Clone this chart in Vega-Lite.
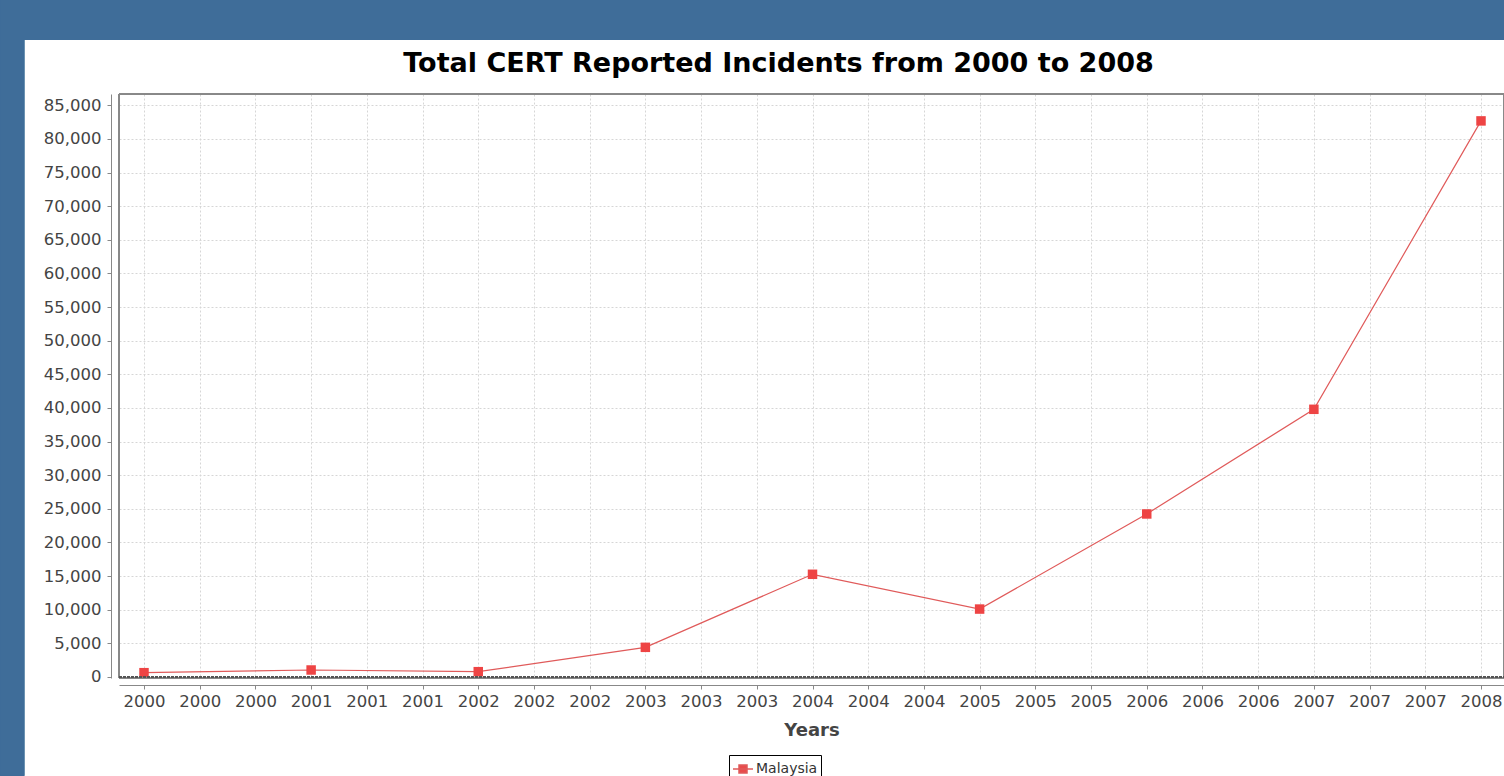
{
  "$schema": "https://vega.github.io/schema/vega-lite/v6.json",
  "autosize": {"type": "none"},
  "padding": {"left": 119, "top": 94, "right": 0, "bottom": 98},
  "width": 1385,
  "height": 584,
  "background": "#ffffff",
  "title": {
    "text": "Total CERT Reported Incidents from 2000 to 2008",
    "font": "DejaVu Sans",
    "fontSize": 27,
    "fontWeight": "bold",
    "color": "#000000",
    "anchor": "middle",
    "frame": "group",
    "dx": -33,
    "dy": 82,
    "zindex": 1
  },
  "data": {
    "values": [
      {"year": 2000, "incidents": 640, "series": "Malaysia"},
      {"year": 2001, "incidents": 1040, "series": "Malaysia"},
      {"year": 2002, "incidents": 790, "series": "Malaysia"},
      {"year": 2003, "incidents": 4410, "series": "Malaysia"},
      {"year": 2004, "incidents": 15270, "series": "Malaysia"},
      {"year": 2005, "incidents": 10100, "series": "Malaysia"},
      {"year": 2006, "incidents": 24240, "series": "Malaysia"},
      {"year": 2007, "incidents": 39800, "series": "Malaysia"},
      {"year": 2008, "incidents": 82680, "series": "Malaysia"}
    ]
  },
  "encoding": {
    "x": {
      "field": "year",
      "type": "quantitative",
      "scale": {"domain": [1999.8504, 2008.1376], "nice": false, "zero": false},
      "axis": {
        "values": [2000, 2000.3333333, 2000.6666667, 2001, 2001.3333333, 2001.6666667, 2002, 2002.3333333, 2002.6666667, 2003, 2003.3333333, 2003.6666667, 2004, 2004.3333333, 2004.6666667, 2005, 2005.3333333, 2005.6666667, 2006, 2006.3333333, 2006.6666667, 2007, 2007.3333333, 2007.6666667, 2008],
        "labelExpr": "floor(datum.value + 0.001)",
        "title": "Years",
        "offset": 7,
        "grid": true,
        "labelPadding": 4,
        "titlePadding": 12,
        "labelFlush": false,
        "labelOverlap": false
      }
    },
    "y": {
      "field": "incidents",
      "type": "quantitative",
      "scale": {"domain": [-150, 86680], "nice": false, "zero": false},
      "axis": {
        "values": [0, 5000, 10000, 15000, 20000, 25000, 30000, 35000, 40000, 45000, 50000, 55000, 60000, 65000, 70000, 75000, 80000, 85000],
        "labelExpr": "format(datum.value, ',')",
        "title": null,
        "offset": 8,
        "grid": true,
        "labelPadding": 6,
        "labelOverlap": false
      }
    }
  },
  "layer": [
    {
      "mark": {"type": "line", "strokeWidth": 1.2, "color": "#dc6a6a"},
      "encoding": {
        "color": {
          "field": "series",
          "type": "nominal",
          "scale": {"range": ["#e05a5a"]},
          "legend": {
            "title": null,
            "orient": "none",
            "legendX": 610,
            "legendY": 661,
            "strokeColor": "#000000",
            "padding": 3,
            "symbolType": "M-1,0H-0.4V-0.4H0.4V0.4H-0.4V0H0.4H1",
            "symbolSize": 400,
            "labelFontSize": 14,
            "labelFont": "DejaVu Sans",
            "labelColor": "#333333",
            "labelOffset": 2,
            "encode": {
              "symbols": {"update": {"fill": {"value": "#e84c4c"}, "stroke": {"value": "#e06666"}, "strokeWidth": {"value": 1.5}}}
            }
          }
        }
      }
    },
    {
      "mark": {"type": "point", "shape": "square", "filled": true, "size": 90, "opacity": 1, "color": "#ee4444"}
    },
    {
      "mark": {"type": "rect", "filled": false, "stroke": "#888888", "strokeWidth": 1, "fill": null, "clip": false},
      "encoding": {
        "x": {"datum": 1999.8504, "type": "quantitative"},
        "x2": {"datum": 2008.1376},
        "y": {"datum": -150, "type": "quantitative"},
        "y2": {"datum": 86680}
      }
    },
    {
      "mark": {"type": "rule", "stroke": "#555555", "strokeWidth": 1, "strokeDash": [3, 1], "clip": false},
      "encoding": {
        "x": {"datum": 1999.8504, "type": "quantitative"},
        "x2": {"datum": 2008.1376},
        "y": {"datum": 0, "type": "quantitative"}
      }
    },
    {
      "mark": {"type": "rect", "fill": "#3f6d99", "clip": false},
      "encoding": {
        "x": {"datum": 1999.1384, "type": "quantitative"},
        "x2": {"datum": 1999.2828},
        "y": {"datum": -14700, "type": "quantitative"},
        "y2": {"datum": 100656}
      }
    },
    {
      "mark": {"type": "rect", "fill": "#3f6d99", "clip": false},
      "encoding": {
        "x": {"datum": 1999.1384, "type": "quantitative"},
        "x2": {"datum": 2008.1376},
        "y": {"datum": 94709, "type": "quantitative"},
        "y2": {"datum": 100656}
      }
    }
  ],
  "config": {
    "view": {"stroke": null, "fill": "#ffffff"},
    "axis": {
      "domainColor": "#888888",
      "tickColor": "#888888",
      "tickSize": 4,
      "labelFont": "DejaVu Sans",
      "labelFontSize": 16.5,
      "labelColor": "#444444",
      "gridColor": "#d6d6d6",
      "gridDash": [2, 2],
      "gridWidth": 1,
      "titleFont": "DejaVu Sans",
      "titleFontSize": 18,
      "titleFontWeight": "bold",
      "titleColor": "#444444",
      "titlePadding": 10
    }
  }
}
